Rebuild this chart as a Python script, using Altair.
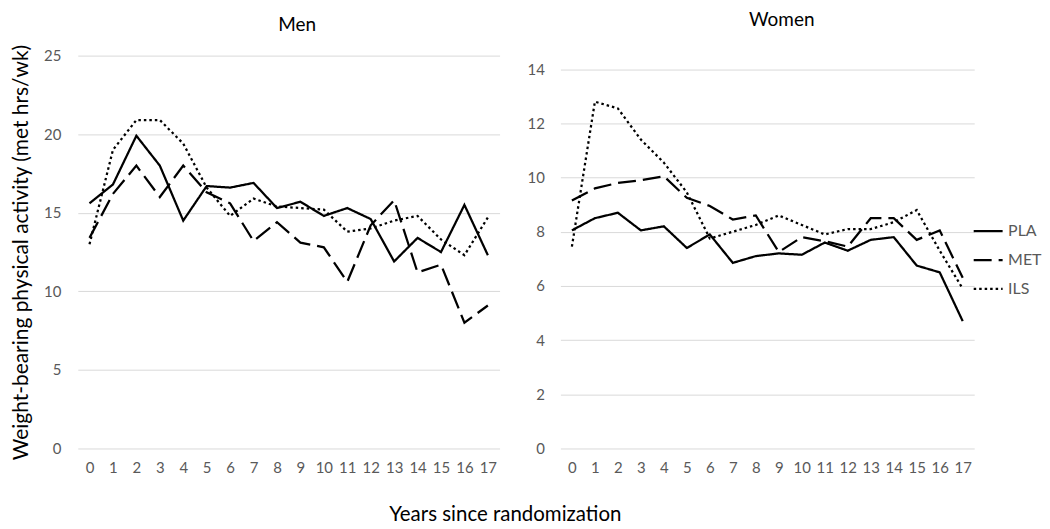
import altair as alt
import pandas as pd

years = list(range(18))
groups = ["PLA", "MET", "ILS"]

men_pla = [15.6, 16.8, 19.9, 18.0, 14.5, 16.7, 16.6, 16.9, 15.3, 15.7, 14.8, 15.3, 14.6, 11.9, 13.4, 12.5, 15.5, 12.3]
men_met = [13.4, 16.2, 18.0, 16.0, 18.0, 16.3, 15.6, 13.2, 14.4, 13.1, 12.8, 10.6, 14.2, 15.8, 11.2, 11.7, 8.0, 9.1]
men_ils = [13.0, 19.0, 20.9, 20.9, 19.4, 16.6, 14.8, 15.9, 15.4, 15.3, 15.2, 13.8, 14.0, 14.5, 14.8, 13.3, 12.3, 14.7]

women_pla = [8.05, 8.5, 8.7, 8.05, 8.2, 7.4, 7.9, 6.85, 7.1, 7.2, 7.15, 7.6, 7.3, 7.7, 7.8, 6.75, 6.5, 4.7]
women_met = [9.15, 9.6, 9.8, 9.9, 10.05, 9.25, 8.95, 8.45, 8.6, 7.25, 7.8, 7.65, 7.45, 8.5, 8.5, 7.7, 8.05, 6.3]
women_ils = [7.45, 12.8, 12.55, 11.4, 10.55, 9.45, 7.75, 8.0, 8.25, 8.6, 8.25, 7.9, 8.1, 8.1, 8.35, 8.8, 7.3, 5.9]

men_ticks = [0, 5, 10, 15, 20, 25]
women_ticks = [0, 2, 4, 6, 8, 10, 12, 14]

FONT = "Lato"
GRID = "#d9d9d9"
LABEL = "#595959"


def frame(pla, met, ils):
    rows = []
    for g, vals in zip(groups, [pla, met, ils]):
        for yr, v in zip(years, vals):
            rows.append({"year": yr, "value": v, "group": g})
    return pd.DataFrame(rows)


dash_scale = alt.Scale(domain=groups, range=[[1, 0], [18, 7], [2.5, 3]])


def panel(df, ymax, ticks, width, ytitle, labelpad, legend, titles):
    x = alt.X(
        "year:O",
        scale=alt.Scale(type="point", padding=0.5),
        axis=alt.Axis(labelAngle=0, title=None, domain=False, ticks=False, tickSize=0,
                      grid=False, labelPadding=12, labelFontSize=15, labelColor=LABEL,
                      labelFont=FONT),
    )
    yaxis_kw = dict(values=ticks, domain=False, ticks=False, tickSize=0, grid=True,
                    gridColor=GRID, gridWidth=1, labelPadding=labelpad, labelFontSize=15,
                    labelColor=LABEL, labelFont=FONT)
    if ytitle:
        yaxis_kw.update(title=ytitle, titleFont=FONT, titleFontSize=21, titleFontWeight="normal",
                        titleColor="black", titlePadding=12)
    else:
        yaxis_kw.update(title=None)
    y = alt.Y("value:Q", scale=alt.Scale(domain=[0, ymax], nice=False, zero=True),
              axis=alt.Axis(**yaxis_kw))
    lines = alt.Chart(df).mark_line(color="black", strokeWidth=2.25).encode(
        x=x, y=y,
        strokeDash=alt.StrokeDash("group:N", scale=dash_scale, legend=legend),
    )
    layers = [lines]
    for (txt, tx, ty, op) in titles:
        layers.append(
            alt.Chart(pd.DataFrame({"t": [txt]})).mark_text(
                fontSize=19, font=FONT, color="black", opacity=op, baseline="middle"
            ).encode(x=alt.value(tx), y=alt.value(ty), text="t:N")
        )
    return alt.layer(*layers).properties(width=width, height=394)


legend = alt.Legend(orient="none", legendX=413, legendY=160, title=None, symbolType="stroke",
                    symbolSize=841, symbolStrokeWidth=2.25, symbolStrokeColor="black",
                    labelFontSize=16, labelFont=FONT, labelColor=LABEL, labelOffset=4,
                    rowPadding=5)

left = panel(frame(men_pla, men_met, men_ils), 25, men_ticks, 423,
             "Weight-bearing physical activity (met hrs/wk)", 17, None,
             [("Men", 220, -31, 1), ("Women", 220, -36, 0)])
right = panel(frame(women_pla, women_met, women_ils), 14.5, women_ticks, 415,
              None, 16, legend, [("Women", 222, -36, 1)])

chart = alt.hconcat(left, right, spacing=27).resolve_scale(strokeDash="independent").properties(
    padding={"left": 2, "top": 2, "right": 0, "bottom": 0},
    title=alt.TitleParams("Years since randomization", orient="bottom", anchor="middle",
                          fontSize=20.5, font=FONT, fontWeight="normal", color="black",
                          offset=30, dx=-21),
).configure_view(stroke=None)

chart.save("out.html", embed_options={"renderer": "svg", "actions": False})
